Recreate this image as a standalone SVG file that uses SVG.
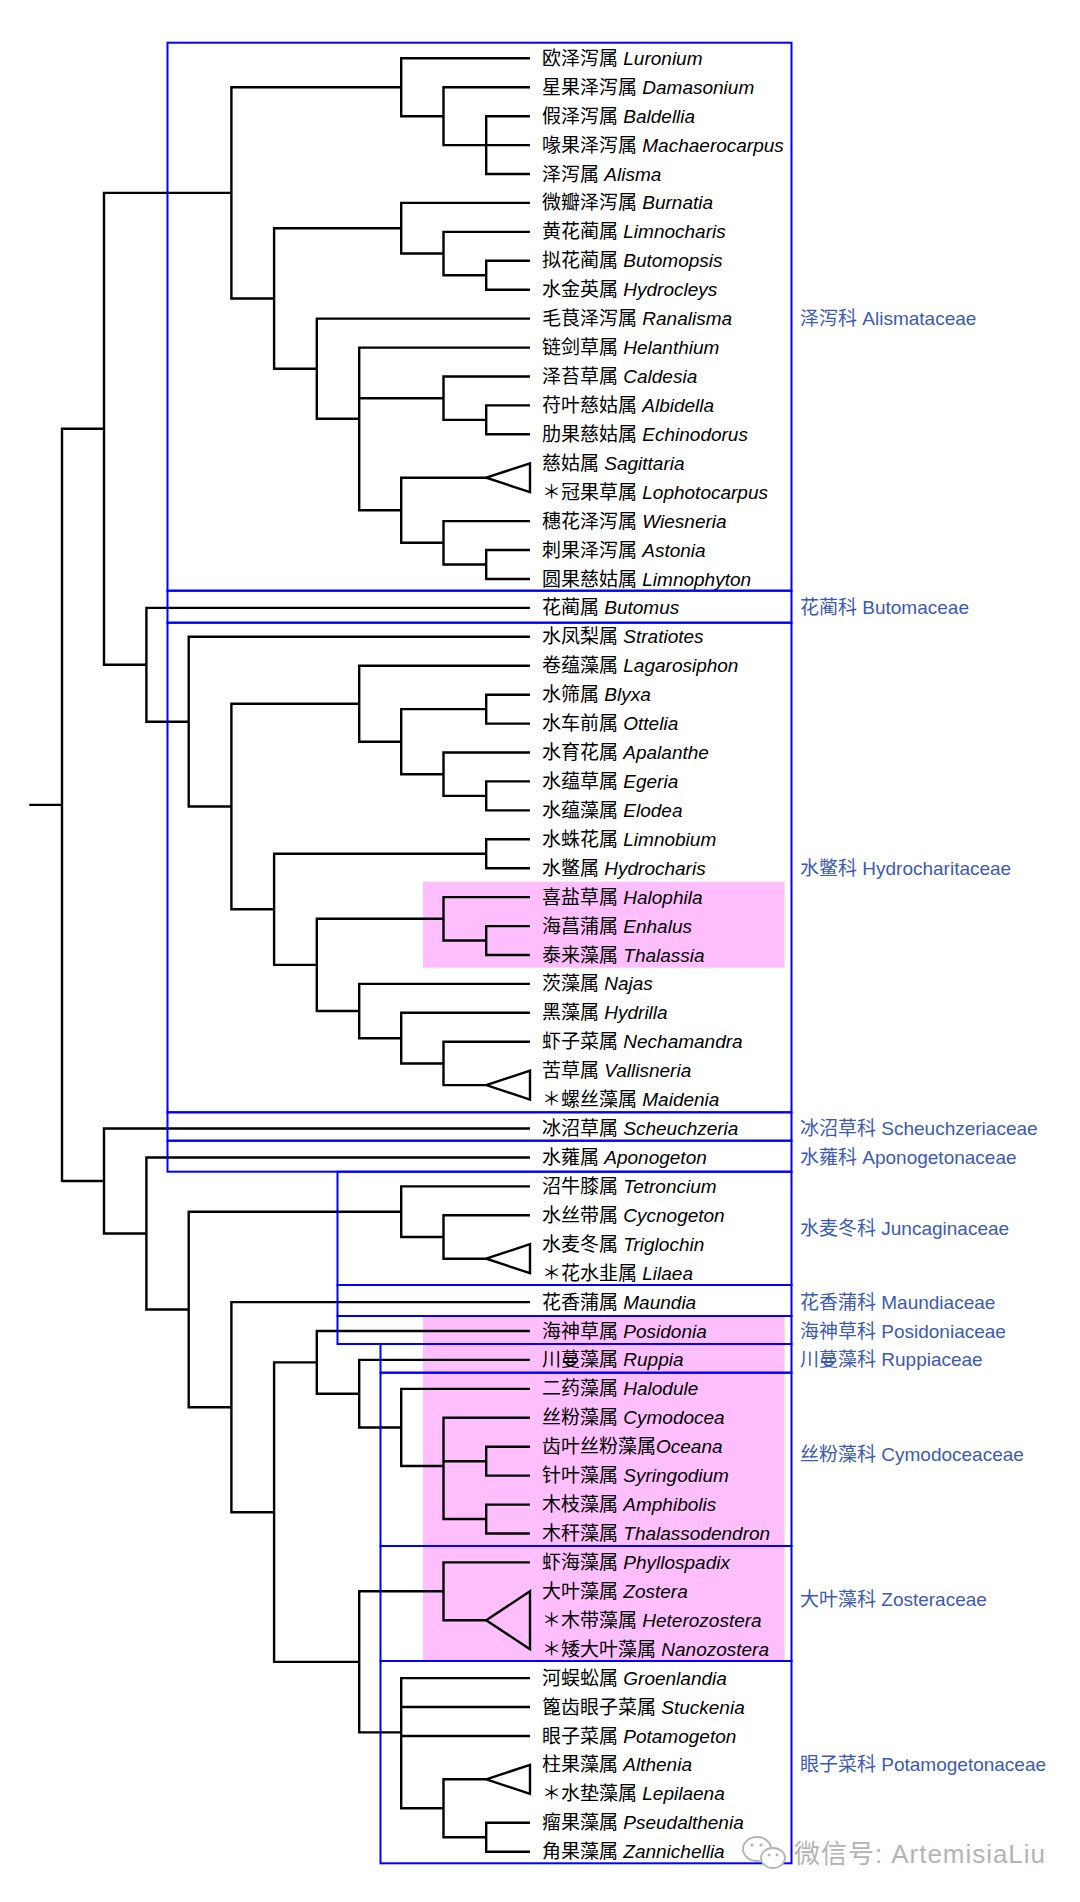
<svg xmlns="http://www.w3.org/2000/svg" width="1080" height="1902" viewBox="0 0 1080 1902">
<style>
.br{fill:none;stroke:#000;stroke-width:2.4;stroke-linejoin:miter}
.tri{fill:none;stroke:#000;stroke-width:2.4;stroke-linejoin:miter}
.box{fill:none;stroke:#0000ff;stroke-width:2}
.pink{fill:#ffbfff}
.lf{font-family:"Liberation Sans","Noto Sans CJK SC",sans-serif;font-size:19px;fill:#000}
.it{font-style:italic}
.fam{font-family:"Liberation Sans","Noto Sans CJK SC",sans-serif;font-size:19px;fill:#3c5ab4}
.wm{font-family:"Liberation Sans","Noto Sans CJK SC",sans-serif;font-size:26px;fill:#b4b4b4}
</style>
<rect width="1080" height="1902" fill="#fff"/>
<g id="highlights">
<rect class="pink" x="423" y="881.7" width="361.6" height="86"/>
<rect class="pink" x="423" y="1316" width="361.6" height="345"/>
</g>
<g id="connectors">
<path class="br" d="M530 116.2 H486.2 V174 H530 M486.2 145.1 H530"/>
<path class="br" d="M530 87.2 H443.5 V145.1 H486.2"/>
<path class="br" d="M530 58.3 H401.2 V116.2 H443.5"/>
<path class="br" d="M530 260.8 H486.2 V289.7 H530"/>
<path class="br" d="M530 231.9 H443.5 V275.2 H486.2"/>
<path class="br" d="M530 202.9 H401.2 V253.5 H443.5"/>
<path class="br" d="M530 405.4 H486.2 V434.3 H530"/>
<path class="br" d="M530 376.5 H443.5 V419.9 H486.2"/>
<polygon class="tri" points="486.2,477.7 530,463.3 530,492.2"/>
<path class="br" d="M530 550 H486.2 V579 H530"/>
<path class="br" d="M530 521.1 H443.5 V564.5 H486.2"/>
<path class="br" d="M486.2 477.7 H401.2 V542.8 H443.5"/>
<path class="br" d="M530 347.6 H359.2 V510.3 H401.2 M359.2 398.2 H443.5"/>
<path class="br" d="M530 318.6 H316.8 V418.7 H359.2"/>
<path class="br" d="M401.2 228.2 H274.1 V368.7 H316.8"/>
<path class="br" d="M401.2 87.2 H231.4 V298.5 H274.1"/>
<path class="br" d="M530 694.7 H486.2 V723.6 H530"/>
<path class="br" d="M530 781.4 H486.2 V810.4 H530"/>
<path class="br" d="M530 752.5 H443.5 V795.9 H486.2"/>
<path class="br" d="M486.2 709.1 H401.2 V774.2 H443.5"/>
<path class="br" d="M530 665.7 H359.2 V741.7 H401.2"/>
<path class="br" d="M530 839.3 H486.2 V868.2 H530"/>
<path class="br" d="M530 926.1 H486.2 V955 H530"/>
<path class="br" d="M530 897.1 H443.5 V940.5 H486.2"/>
<polygon class="tri" points="486.2,1085.1 530,1070.7 530,1099.6"/>
<path class="br" d="M530 1041.8 H443.5 V1085.1 H486.2"/>
<path class="br" d="M530 1012.8 H401.2 V1063.5 H443.5"/>
<path class="br" d="M530 983.9 H359.2 V1038.2 H401.2"/>
<path class="br" d="M443.5 918.8 H316.8 V1011 H359.2"/>
<path class="br" d="M486.2 853.7 H274.1 V964.9 H316.8"/>
<path class="br" d="M359.2 703.7 H231.4 V909.3 H274.1"/>
<path class="br" d="M530 636.8 H188.7 V806.5 H231.4"/>
<path class="br" d="M530 607.9 H146.4 V721.7 H188.7"/>
<path class="br" d="M231.4 192.9 H104 V664.8 H146.4"/>
<polygon class="tri" points="486.2,1258.7 530,1244.2 530,1273.2"/>
<path class="br" d="M530 1215.3 H443.5 V1258.7 H486.2"/>
<path class="br" d="M530 1186.4 H401.2 V1237 H443.5"/>
<path class="br" d="M530 1446.7 H486.2 V1475.6 H530"/>
<path class="br" d="M530 1504.6 H486.2 V1533.5 H530"/>
<path class="br" d="M530 1417.8 H443.5 V1519 H486.2 M443.5 1461.2 H486.2"/>
<path class="br" d="M530 1388.9 H401.2 V1466 H443.5"/>
<path class="br" d="M530 1359.9 H359.2 V1427.5 H401.2"/>
<path class="br" d="M530 1331 H316.8 V1393.7 H359.2"/>
<polygon class="tri" points="486.2,1620.3 530,1591.3 530,1649.2"/>
<path class="br" d="M530 1562.4 H443.5 V1620.3 H486.2"/>
<polygon class="tri" points="486.2,1779.3 530,1764.9 530,1793.8"/>
<path class="br" d="M530 1822.7 H486.2 V1851.7 H530"/>
<path class="br" d="M486.2 1779.3 H443.5 V1837.2 H486.2"/>
<path class="br" d="M530 1678.1 H401.2 V1808.3 H443.5 M401.2 1707 H530 M401.2 1736 H530"/>
<path class="br" d="M443.5 1591.3 H359.2 V1732.4 H401.2"/>
<path class="br" d="M316.8 1362.4 H274.1 V1661.9 H359.2"/>
<path class="br" d="M530 1302.1 H231.4 V1512.2 H274.1"/>
<path class="br" d="M401.2 1211.7 H188.7 V1407.2 H231.4"/>
<path class="br" d="M530 1157.5 H146.4 V1309.5 H188.7"/>
<path class="br" d="M530 1128.5 H104 V1233.5 H146.4"/>
<path class="br" d="M104 428.8 H62 V1181 H104 M29.3 804.9 H62"/>
</g>
<g id="family-boxes">
<rect class="box" x="167.5" y="42.7" width="624" height="548"/>
<rect class="box" x="167.5" y="590.7" width="624" height="32"/>
<rect class="box" x="167.5" y="622.7" width="624" height="489.6"/>
<rect class="box" x="167.5" y="1112.3" width="624" height="28.4"/>
<rect class="box" x="167.5" y="1140.7" width="624" height="31"/>
<rect class="box" x="337.5" y="1171.7" width="454" height="113.3"/>
<rect class="box" x="337.5" y="1285" width="454" height="31"/>
<rect class="box" x="337.5" y="1316" width="454" height="28"/>
<rect class="box" x="380.5" y="1344" width="411" height="28.7"/>
<rect class="box" x="380.5" y="1372.7" width="411" height="173.3"/>
<rect class="box" x="380.5" y="1546" width="411" height="115"/>
<rect class="box" x="380.5" y="1661" width="411" height="202.3"/>
</g>
<g id="leaves" class="lf">
<g id="leaf-Luronium"><text x="542" y="64.8">欧泽泻属 <tspan class="it">Luronium</tspan></text></g>
<g id="leaf-Damasonium"><text x="542" y="93.7">星果泽泻属 <tspan class="it">Damasonium</tspan></text></g>
<g id="leaf-Baldellia"><text x="542" y="122.7">假泽泻属 <tspan class="it">Baldellia</tspan></text></g>
<g id="leaf-Machaerocarpus"><text x="542" y="151.6">喙果泽泻属 <tspan class="it">Machaerocarpus</tspan></text></g>
<g id="leaf-Alisma"><text x="542" y="180.5">泽泻属 <tspan class="it">Alisma</tspan></text></g>
<g id="leaf-Burnatia"><text x="542" y="209.4">微瓣泽泻属 <tspan class="it">Burnatia</tspan></text></g>
<g id="leaf-Limnocharis"><text x="542" y="238.4">黄花蔺属 <tspan class="it">Limnocharis</tspan></text></g>
<g id="leaf-Butomopsis"><text x="542" y="267.3">拟花蔺属 <tspan class="it">Butomopsis</tspan></text></g>
<g id="leaf-Hydrocleys"><text x="542" y="296.2">水金英属 <tspan class="it">Hydrocleys</tspan></text></g>
<g id="leaf-Ranalisma"><text x="542" y="325.1">毛茛泽泻属 <tspan class="it">Ranalisma</tspan></text></g>
<g id="leaf-Helanthium"><text x="542" y="354.1">链剑草属 <tspan class="it">Helanthium</tspan></text></g>
<g id="leaf-Caldesia"><text x="542" y="383">泽苔草属 <tspan class="it">Caldesia</tspan></text></g>
<g id="leaf-Albidella"><text x="542" y="411.9">苻叶慈姑属 <tspan class="it">Albidella</tspan></text></g>
<g id="leaf-Echinodorus"><text x="542" y="440.8">肋果慈姑属 <tspan class="it">Echinodorus</tspan></text></g>
<g id="leaf-Sagittaria"><text x="542" y="469.8">慈姑属 <tspan class="it">Sagittaria</tspan></text></g>
<g id="leaf-Lophotocarpus"><text x="542" y="498.7">＊冠果草属 <tspan class="it">Lophotocarpus</tspan></text></g>
<g id="leaf-Wiesneria"><text x="542" y="527.6">穗花泽泻属 <tspan class="it">Wiesneria</tspan></text></g>
<g id="leaf-Astonia"><text x="542" y="556.5">刺果泽泻属 <tspan class="it">Astonia</tspan></text></g>
<g id="leaf-Limnophyton"><text x="542" y="585.5">圆果慈姑属 <tspan class="it">Limnophyton</tspan></text></g>
<g id="leaf-Butomus"><text x="542" y="614.4">花蔺属 <tspan class="it">Butomus</tspan></text></g>
<g id="leaf-Stratiotes"><text x="542" y="643.3">水凤梨属 <tspan class="it">Stratiotes</tspan></text></g>
<g id="leaf-Lagarosiphon"><text x="542" y="672.2">卷蕴藻属 <tspan class="it">Lagarosiphon</tspan></text></g>
<g id="leaf-Blyxa"><text x="542" y="701.2">水筛属 <tspan class="it">Blyxa</tspan></text></g>
<g id="leaf-Ottelia"><text x="542" y="730.1">水车前属 <tspan class="it">Ottelia</tspan></text></g>
<g id="leaf-Apalanthe"><text x="542" y="759">水育花属 <tspan class="it">Apalanthe</tspan></text></g>
<g id="leaf-Egeria"><text x="542" y="787.9">水蕴草属 <tspan class="it">Egeria</tspan></text></g>
<g id="leaf-Elodea"><text x="542" y="816.9">水蕴藻属 <tspan class="it">Elodea</tspan></text></g>
<g id="leaf-Limnobium"><text x="542" y="845.8">水蛛花属 <tspan class="it">Limnobium</tspan></text></g>
<g id="leaf-Hydrocharis"><text x="542" y="874.7">水鳖属 <tspan class="it">Hydrocharis</tspan></text></g>
<g id="leaf-Halophila"><text x="542" y="903.6">喜盐草属 <tspan class="it">Halophila</tspan></text></g>
<g id="leaf-Enhalus"><text x="542" y="932.6">海菖蒲属 <tspan class="it">Enhalus</tspan></text></g>
<g id="leaf-Thalassia"><text x="542" y="961.5">泰来藻属 <tspan class="it">Thalassia</tspan></text></g>
<g id="leaf-Najas"><text x="542" y="990.4">茨藻属 <tspan class="it">Najas</tspan></text></g>
<g id="leaf-Hydrilla"><text x="542" y="1019.3">黑藻属 <tspan class="it">Hydrilla</tspan></text></g>
<g id="leaf-Nechamandra"><text x="542" y="1048.3">虾子菜属 <tspan class="it">Nechamandra</tspan></text></g>
<g id="leaf-Vallisneria"><text x="542" y="1077.2">苦草属 <tspan class="it">Vallisneria</tspan></text></g>
<g id="leaf-Maidenia"><text x="542" y="1106.1">＊螺丝藻属 <tspan class="it">Maidenia</tspan></text></g>
<g id="leaf-Scheuchzeria"><text x="542" y="1135">冰沼草属 <tspan class="it">Scheuchzeria</tspan></text></g>
<g id="leaf-Aponogeton"><text x="542" y="1164">水蕹属 <tspan class="it">Aponogeton</tspan></text></g>
<g id="leaf-Tetroncium"><text x="542" y="1192.9">沼牛膝属 <tspan class="it">Tetroncium</tspan></text></g>
<g id="leaf-Cycnogeton"><text x="542" y="1221.8">水丝带属 <tspan class="it">Cycnogeton</tspan></text></g>
<g id="leaf-Triglochin"><text x="542" y="1250.7">水麦冬属 <tspan class="it">Triglochin</tspan></text></g>
<g id="leaf-Lilaea"><text x="542" y="1279.7">＊花水韭属 <tspan class="it">Lilaea</tspan></text></g>
<g id="leaf-Maundia"><text x="542" y="1308.6">花香蒲属 <tspan class="it">Maundia</tspan></text></g>
<g id="leaf-Posidonia"><text x="542" y="1337.5">海神草属 <tspan class="it">Posidonia</tspan></text></g>
<g id="leaf-Ruppia"><text x="542" y="1366.4">川蔓藻属 <tspan class="it">Ruppia</tspan></text></g>
<g id="leaf-Halodule"><text x="542" y="1395.4">二药藻属 <tspan class="it">Halodule</tspan></text></g>
<g id="leaf-Cymodocea"><text x="542" y="1424.3">丝粉藻属 <tspan class="it">Cymodocea</tspan></text></g>
<g id="leaf-Oceana"><text x="542" y="1453.2">齿叶丝粉藻属<tspan class="it">Oceana</tspan></text></g>
<g id="leaf-Syringodium"><text x="542" y="1482.1">针叶藻属 <tspan class="it">Syringodium</tspan></text></g>
<g id="leaf-Amphibolis"><text x="542" y="1511.1">木枝藻属 <tspan class="it">Amphibolis</tspan></text></g>
<g id="leaf-Thalassodendron"><text x="542" y="1540">木秆藻属 <tspan class="it">Thalassodendron</tspan></text></g>
<g id="leaf-Phyllospadix"><text x="542" y="1568.9">虾海藻属 <tspan class="it">Phyllospadix</tspan></text></g>
<g id="leaf-Zostera"><text x="542" y="1597.8">大叶藻属 <tspan class="it">Zostera</tspan></text></g>
<g id="leaf-Heterozostera"><text x="542" y="1626.8">＊木带藻属 <tspan class="it">Heterozostera</tspan></text></g>
<g id="leaf-Nanozostera"><text x="542" y="1655.7">＊矮大叶藻属 <tspan class="it">Nanozostera</tspan></text></g>
<g id="leaf-Groenlandia"><text x="542" y="1684.6">河蜈蚣属 <tspan class="it">Groenlandia</tspan></text></g>
<g id="leaf-Stuckenia"><text x="542" y="1713.5">篦齿眼子菜属 <tspan class="it">Stuckenia</tspan></text></g>
<g id="leaf-Potamogeton"><text x="542" y="1742.5">眼子菜属 <tspan class="it">Potamogeton</tspan></text></g>
<g id="leaf-Althenia"><text x="542" y="1771.4">柱果藻属 <tspan class="it">Althenia</tspan></text></g>
<g id="leaf-Lepilaena"><text x="542" y="1800.3">＊水垫藻属 <tspan class="it">Lepilaena</tspan></text></g>
<g id="leaf-Pseudalthenia"><text x="542" y="1829.2">瘤果藻属 <tspan class="it">Pseudalthenia</tspan></text></g>
<g id="leaf-Zannichellia"><text x="542" y="1858.2">角果藻属 <tspan class="it">Zannichellia</tspan></text></g>
</g>
<g id="families" class="fam">
<g id="fam-Alismataceae"><text x="800" y="325.1">泽泻科 Alismataceae</text></g>
<g id="fam-Butomaceae"><text x="800" y="614.4">花蔺科 Butomaceae</text></g>
<g id="fam-Hydrocharitaceae"><text x="800" y="874.7">水鳖科 Hydrocharitaceae</text></g>
<g id="fam-Scheuchzeriaceae"><text x="800" y="1135">冰沼草科 Scheuchzeriaceae</text></g>
<g id="fam-Aponogetonaceae"><text x="800" y="1164">水蕹科 Aponogetonaceae</text></g>
<g id="fam-Juncaginaceae"><text x="800" y="1234.5">水麦冬科 Juncaginaceae</text></g>
<g id="fam-Maundiaceae"><text x="800" y="1308.6">花香蒲科 Maundiaceae</text></g>
<g id="fam-Posidoniaceae"><text x="800" y="1337.5">海神草科 Posidoniaceae</text></g>
<g id="fam-Ruppiaceae"><text x="800" y="1366.4">川蔓藻科 Ruppiaceae</text></g>
<g id="fam-Cymodoceaceae"><text x="800" y="1460.5">丝粉藻科 Cymodoceaceae</text></g>
<g id="fam-Zosteraceae"><text x="800" y="1606">大叶藻科 Zosteraceae</text></g>
<g id="fam-Potamogetonaceae"><text x="800" y="1771.4">眼子菜科 Potamogetonaceae</text></g>
</g>
<g id="watermark">
<ellipse cx="757" cy="1849" rx="14" ry="12" fill="#fff" stroke="#b4b4b4" stroke-width="1.8"/>
<ellipse cx="773" cy="1858" rx="12" ry="10" fill="#fff" stroke="#b4b4b4" stroke-width="1.8"/>
<circle cx="752" cy="1845" r="1.6" fill="#b4b4b4"/>
<circle cx="761" cy="1845" r="1.6" fill="#b4b4b4"/>
<circle cx="769" cy="1855" r="1.4" fill="#b4b4b4"/>
<circle cx="777" cy="1855" r="1.4" fill="#b4b4b4"/>
<text class="wm" x="794" y="1863" textLength="251" lengthAdjust="spacing">微信号: ArtemisiaLiu</text>
</g>
</svg>
